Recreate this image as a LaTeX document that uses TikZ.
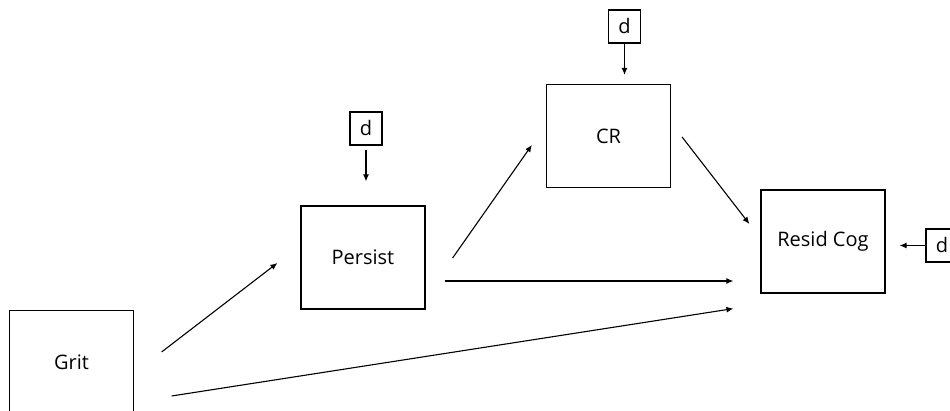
\documentclass[tikz,border=0pt]{standalone}
\usepackage{fontspec}
\setmainfont{Open Sans}
\usetikzlibrary{arrows.meta}

\begin{document}
\begin{tikzpicture}[x=0.5pt, y=-0.5pt,
    block/.style={draw, rectangle, line width=0.6pt, minimum width=62pt, minimum height=51.5pt, inner sep=0pt, font=\fontsize{10}{12}\selectfont},
    errbox/.style={draw, rectangle, line width=0.6pt, minimum width=16pt, minimum height=16.5pt, inner sep=0pt, font=\fontsize{10}{12}\selectfont},
    link/.style={-{Latex[length=3.5pt,width=3pt]}, line width=0.55pt}]
    \useasboundingbox (0,0) rectangle (950,411);
    \clip (0,0) rectangle (950,411);

    % Nodes
    \node [block] (grit) at (71.5,362) {Grit};
    \node [block] (persist) at (363,257.5) {Persist};
    \node [block] (cr) at (608.5,136) {CR};
    \node [block] (resid) at (823,241.5) {Resid Cog};

    % Disturbance terms
    \node [errbox] (dpersist) at (366,128.5) {d};
    \node [errbox] (dcr) at (624.5,26.5) {d};
    \node [errbox] (dresid) at (942,245.5) {d};

    % Arrows
    \draw [link] ([shift={(27.5,-10)}]grit.east) -- ([shift={(-23,5.5)}]persist.west);
    \draw [link] ([shift={(37.5,34)}]grit.east) -- ([shift={(-27,15)}]resid.south west);
    \draw [link] ([shift={(27,0.5)}]persist.east) -- ([shift={(-14,9)}]cr.west);
    \draw [link] ([shift={(19,23.5)}]persist.east) -- ([shift={(-27,39.5)}]resid.west);
    \draw [link] ([shift={(11,1)}]cr.east) -- ([shift={(-11,-17.5)}]resid.west);

    \draw [link] ([yshift=-2pt]dpersist.south) -- ([yshift=12pt]dpersist.south |- persist.north);
    \draw [link] (dcr.south) -- ([yshift=4.5pt]dcr.south |- cr.north);
    \draw [link] (dresid.west) -- ([xshift=7pt]resid.east |- dresid.west);
\end{tikzpicture}
\end{document}
